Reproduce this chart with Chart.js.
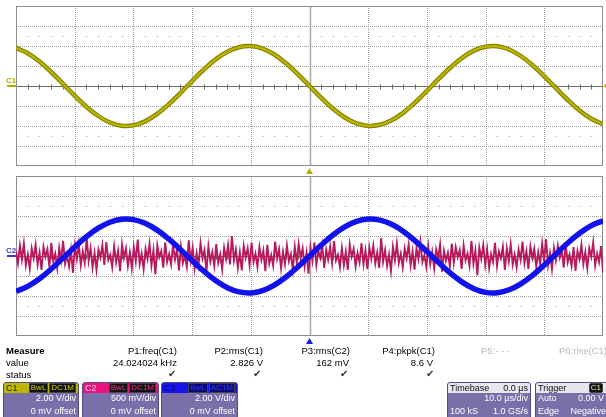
<!DOCTYPE html>
<html>
<head>
<meta charset="utf-8">
<script src="https://cdn.jsdelivr.net/npm/chart.js@4.4.1/dist/chart.umd.min.js"></script>
<style>
  html, body { margin: 0; padding: 0; background: #fff; }
  body { width: 606px; height: 417px; overflow: hidden; position: relative; font-family: "Liberation Sans", Arial, sans-serif; }
  canvas { position: absolute; left: 0; }
  #topScope { top: 0; }
  #botScope { top: 172px; }
  .t { position: absolute; font-size: 9.5px; line-height: 11px; color: #000; white-space: nowrap; }
  .b { font-weight: bold; }
  .dim { color: #b8b8b8; }
  .ok { position: absolute; font-family: "DejaVu Sans", sans-serif; font-size: 10px; line-height: 10px; color: #333; top: 369px; }
  .ch { position: absolute; top: 382px; height: 40px; background: #7a6fa9; border: 1px solid #564b80; border-radius: 3px;
        box-sizing: border-box; overflow: hidden; color: #fff; font-size: 9px; }
  .hd { position: relative; height: 10px; line-height: 10px; }
  .nm { position: absolute; left: 2px; top: 0; }
  .tags { position: absolute; right: 2px; top: 0; display: flex; gap: 1px; }
  .tg { background: #111; font-size: 8px; line-height: 8px; padding: 0 1px; border: 1px solid #444; border-radius: 1px; }
  .r { position: absolute; line-height: 11px; white-space: nowrap; }
</style>
</head>
<body>
<canvas id="topScope" width="606" height="176"></canvas>
<canvas id="botScope" width="606" height="172"></canvas>

<!-- measure table -->
<div class="t b" style="left:6px;top:345px">Measure</div>
<div class="t" style="left:6px;top:357px">value</div>
<div class="t" style="left:6px;top:369px">status</div>

<div class="t" style="right:429px;top:345px">P1:freq(C1)</div>
<div class="t" style="right:343px;top:345px">P2:rms(C1)</div>
<div class="t" style="right:256px;top:345px">P3:rms(C2)</div>
<div class="t" style="right:171px;top:345px">P4:pkpk(C1)</div>
<div class="t dim" style="right:96px;top:345px">P5:- - -</div>
<div class="t dim" style="right:-1px;top:345px">P6:rise(C1)</div>

<div class="t" style="right:429px;top:357px">24.024024 kHz</div>
<div class="t" style="right:343px;top:357px">2.826 V</div>
<div class="t" style="right:257px;top:357px">162 mV</div>
<div class="t" style="right:173px;top:357px">8.6 V</div>

<div class="ok" style="left:168px">✔</div>
<div class="ok" style="left:253px">✔</div>
<div class="ok" style="left:340px">✔</div>
<div class="ok" style="left:426px">✔</div>

<!-- channel boxes -->
<div class="ch" style="left:3px;width:76px">
  <div class="hd" style="background:#bcb700"><span class="nm" style="color:#1a1a00">C1</span>
    <span class="tags"><span class="tg" style="color:#d6d200">BwL</span><span class="tg" style="color:#d6d200">DC1M</span></span></div>
  <div class="r" style="right:2px;top:10px">2.00 V/div</div>
  <div class="r" style="right:2px;top:23px">0 mV offset</div>
</div>
<div class="ch" style="left:82px;width:77px">
  <div class="hd" style="background:#e8137f"><span class="nm" style="color:#ffd0e8">C2</span>
    <span class="tags"><span class="tg" style="color:#f0338f">BwL</span><span class="tg" style="color:#f0338f">DC1M</span></span></div>
  <div class="r" style="right:2px;top:10px">500 mV/div</div>
  <div class="r" style="right:2px;top:23px">0 mV offset</div>
</div>
<div class="ch" style="left:161px;width:77px">
  <div class="hd" style="background:#1616ec"><span class="nm" style="color:#08085a">C3</span>
    <span class="tags"><span class="tg" style="background:#0a0a70;color:#3a3aff">BwL</span><span class="tg" style="background:#0a0a70;color:#3a3aff">AC1M</span></span></div>
  <div class="r" style="right:2px;top:10px">2.00 V/div</div>
  <div class="r" style="right:2px;top:23px">0 mV offset</div>
</div>

<div class="ch" style="left:447px;width:84px">
  <div class="hd" style="background:#e6e6ee;color:#111"><span class="nm">Timebase</span><span class="r" style="right:2px;top:0;line-height:10px">0.0 µs</span></div>
  <div class="r" style="right:2px;top:10px">10.0 µs/div</div>
  <div class="r" style="left:2px;top:23px">100 kS</div>
  <div class="r" style="right:2px;top:23px">1.0 GS/s</div>
</div>
<div class="ch" style="left:535px;width:74px">
  <div class="hd" style="background:#e6e6ee;color:#111"><span class="nm">Trigger</span>
    <span class="tags" style="right:5px"><span class="tg" style="color:#e8e8a0;border-radius:2px">C1</span></span></div>
  <div class="r" style="left:2px;top:10px">Auto</div>
  <div class="r" style="right:4px;top:10px">0.00 V</div>
  <div class="r" style="left:2px;top:23px">Edge</div>
  <div class="r" style="right:2px;top:23px">Negative</div>
</div>

<script>
// sample times (µs, 10 µs/div), read every 2 µs
const timeUs = [-50,-48,-46,-44,-42,-40,-38,-36,-34,-32,-30,-28,-26,-24,-22,-20,-18,-16,-14,-12,-10,-8,-6,-4,-2,
                0,2,4,6,8,10,12,14,16,18,20,22,24,26,28,30,32,34,36,38,40,42,44,46,48,50];
// C1 (V, 2 V/div)
const c1Volts = [3.81,3.28,2.45,1.40,0.22,-0.97,-2.08,-3.00,-3.65,-3.97,-3.93,-3.54,-2.82,-1.85,-0.71,0.49,1.65,2.66,3.43,3.88,3.99,3.74,3.15,2.27,1.19,
                 0,-1.19,-2.27,-3.15,-3.74,-3.99,-3.88,-3.43,-2.66,-1.65,-0.49,0.71,1.85,2.82,3.54,3.93,3.97,3.65,3.00,2.08,0.97,-0.22,-1.40,-2.45,-3.28,-3.81];
// C3 (V, 2 V/div, AC)
const c3Volts = [-3.53,-3.03,-2.27,-1.30,-0.21,0.90,1.93,2.78,3.38,3.67,3.64,3.27,2.61,1.71,0.66,-0.45,-1.52,-2.46,-3.17,-3.59,-3.69,-3.46,-2.91,-2.10,-1.10,
                 0,1.10,2.10,2.91,3.46,3.69,3.59,3.17,2.46,1.52,0.45,-0.66,-1.71,-2.61,-3.27,-3.64,-3.67,-3.38,-2.78,-1.93,-0.90,0.21,1.30,2.27,3.03,3.53];
// C2 noise (mV, 500 mV/div), evenly spaced across the 100 µs screen
const c2NoiseMv = [
  120,-180,260,-90,310,-240,40,-320,190,-60,280,-210,90,-350,230,-20,170,-270,330,-140,
  60,-300,210,-110,380,-190,20,-260,150,-420,250,-80,300,-230,110,-170,470,-120,200,-290,
  80,-340,160,-40,270,-220,350,-100,30,-280,240,-160,130,-380,290,-50,190,-250,90,-310,
  220,-130,410,-200,60,-330,180,-70,300,-240,140,-460,260,-30,120,-290,340,-150,50,-210,
  280,-90,170,-360,230,-180,10,-270,390,-120,210,-310,70,-220,320,-60,150,-400,240,-140,
  100,-250,300,-170,40,-330,200,-80,270,-210,500,-110,160,-290,90,-360,250,-40,190,-230,
  330,-150,60,-270,220,-100,140,-380,280,-190,20,-240,360,-70,170,-310,110,-200,260,-130,
  50,-340,230,-160,300,-60,190,-260,80,-440,210,-120,340,-220,130,-50,270,-300,160,-90,
  240,-180,370,-110,30,-280,200,-230,110,-350,290,-20,180,-260,70,-160,320,-210,140,-330,
  210,-70,260,-190,90,-300,450,-140,150,-250,40,-370,230,-100,310,-170,60,-280,190,-60,
  280,-230,120,-340,200,-80,350,-150,20,-270,240,-200,100,-310,170,-40,290,-390,130,-120,
  80,-260,310,-170,220,-30,150,-320,260,-110,60,-240,380,-190,140,-480,210,-70,270,-220,
  170,-300,50,-150,330,-250,110,-60,230,-350,190,-130,290,-210,40,-280,160,-90,360,-180,
  120,-320,240,-50,180,-270,90,-200,310,-140,420,-230,70,-330,200,-110,260,-40,150,-290,
  300,-160,30,-250,220,-370,130,-80,280,-200,100,-300,190,-20,340,-240,60,-150,250,-410
];
// graticule: major divisions
const divTimes = [-50,-40,-30,-20,-10,0,10,20,30,40,50];
const divCount = 8;

const pts = (ys) => timeUs.map((t, i) => ({ x: t, y: ys[i] }));

/* ── graticule + markers ───────────────────── */
const graticule = {
  id: 'graticule',
  beforeDatasetsDraw(chart, args, o) {
    const { ctx, chartArea: a } = chart;
    const xs = chart.scales.x, ys = chart.scales[o.yAxis];
    const step = (ys.max - ys.min) / divCount;
    ctx.save();
    ctx.lineWidth = 1;
    // dotted grid
    ctx.strokeStyle = '#9c9c9c';
    ctx.setLineDash([1, 1]);
    divTimes.forEach(v => {
      if (v === 0 || v === xs.min || v === xs.max) return;
      const px = Math.round(xs.getPixelForValue(v)) + 0.5;
      ctx.beginPath(); ctx.moveTo(px, a.top); ctx.lineTo(px, a.bottom); ctx.stroke();
    });
    for (let j = 1; j < divCount; j++) {
      const v = ys.min + j * step;
      if (Math.abs(v) < 1e-9) continue;
      const py = Math.round(ys.getPixelForValue(v)) + 0.5;
      ctx.beginPath(); ctx.moveTo(a.left, py); ctx.lineTo(a.right, py); ctx.stroke();
    }
    ctx.setLineDash([]);
    // centre cross
    const cx = Math.round(xs.getPixelForValue(0)) + 0.5;
    const cy = Math.round(ys.getPixelForValue(0)) + 0.5;
    ctx.strokeStyle = '#a8a8a8';
    ctx.lineWidth = 1.5;
    ctx.beginPath(); ctx.moveTo(cx, a.top); ctx.lineTo(cx, a.bottom); ctx.stroke();
    ctx.lineWidth = 1;
    ctx.strokeStyle = '#6a6a6a';
    ctx.beginPath(); ctx.moveTo(a.left, cy); ctx.lineTo(a.right, cy); ctx.stroke();
    // minor ticks on the centre line and dot rows at ±2.5 div
    const rowUp = Math.round(ys.getPixelForValue(2.5 * step)) + 0.5;
    const rowDn = Math.round(ys.getPixelForValue(-2.5 * step)) + 0.5;
    timeUs.forEach(t => {
      if (t % 10 === 0) return;
      const px = Math.round(xs.getPixelForValue(t)) + 0.5;
      ctx.strokeStyle = '#6a6a6a';
      ctx.beginPath(); ctx.moveTo(px, cy - 2); ctx.lineTo(px, cy + 3); ctx.stroke();
      ctx.strokeStyle = '#c4c4c4';
      [rowUp, rowDn].forEach(r => { ctx.beginPath(); ctx.moveTo(px - 1, r); ctx.lineTo(px + 1, r); ctx.stroke(); });
    });
    // frame
    ctx.strokeStyle = '#8c8c8c';
    ctx.strokeRect(a.left + 0.5, a.top + 0.5, a.right - a.left - 1, a.bottom - a.top - 1);
    ctx.restore();
  },
  afterDraw(chart, args, o) {
    const { ctx, chartArea: a } = chart;
    const xs = chart.scales.x, ys = chart.scales[o.yAxis];
    const cx = xs.getPixelForValue(0), cy = ys.getPixelForValue(0);
    ctx.save();
    // channel label on the left
    ctx.fillStyle = o.labelColor;
    ctx.font = 'bold 8px "Liberation Sans", Arial, sans-serif';
    ctx.textBaseline = 'alphabetic';
    ctx.fillText(o.label, 6, cy - 3);
    ctx.strokeStyle = o.labelColor;
    ctx.lineWidth = 2;
    ctx.beginPath(); ctx.moveTo(7, cy); ctx.lineTo(a.left, cy); ctx.stroke();
    // trigger-time triangle below the grid
    ctx.fillStyle = o.markColor;
    ctx.beginPath();
    ctx.moveTo(cx, a.bottom + 2); ctx.lineTo(cx - 3.5, a.bottom + 8); ctx.lineTo(cx + 3.5, a.bottom + 8);
    ctx.closePath(); ctx.fill();
    if (o.levelMark) {
      ctx.beginPath();
      ctx.moveTo(a.right + 0.5, cy); ctx.lineTo(a.right + 4, cy - 3); ctx.lineTo(a.right + 4, cy + 3);
      ctx.closePath(); ctx.fill();
    }
    ctx.restore();
  }
};

const common = {
  type: 'line',
  plugins: [graticule]
};

function baseOptions(pad, yScales, marks) {
  return {
    responsive: false,
    animation: false,
    devicePixelRatio: 1,
    layout: { padding: pad },
    elements: { point: { radius: 0 } },
    plugins: { legend: { display: false }, tooltip: { enabled: false }, graticule: marks },
    scales: Object.assign({ x: { type: 'linear', min: -50, max: 50, display: false } }, yScales)
  };
}

/* ── top panel: C1 ───────────────────────── */
new Chart(document.getElementById('topScope'), {
  ...common,
  data: {
    datasets: [
      { data: pts(c1Volts), yAxisID: 'y', borderColor: '#bab600', borderWidth: 2.2, tension: 0.4, clip: 0 },
      { data: pts(c1Volts), yAxisID: 'y', borderColor: '#868200', borderWidth: 4.5, tension: 0.4, clip: 0 }
    ]
  },
  options: baseOptions({ left: 16, right: 3, top: 6, bottom: 10 },
    { y: { type: 'linear', min: -8, max: 8, display: false } },
    { yAxis: 'y', label: 'C1', labelColor: '#b4b000', markColor: '#b4b000', levelMark: true })
});

/* ── bottom panel: C2 + C3 ───────────────── */
new Chart(document.getElementById('botScope'), {
  ...common,
  data: {
    datasets: [
      { data: pts(c3Volts), xAxisID: 'x', yAxisID: 'yC3', borderColor: '#1212ee', borderWidth: 5.5, tension: 0.4, clip: 0 },
      { data: c2NoiseMv, xAxisID: 'xn', yAxisID: 'yC2', borderColor: '#b8185c', borderWidth: 1.9, tension: 0, clip: 0 }
    ]
  },
  options: baseOptions({ left: 16, right: 3, top: 4, bottom: 8 },
    {
      xn: { type: 'category', labels: c2NoiseMv.map((_, i) => i), offset: false, display: false },
      yC3: { type: 'linear', min: -8, max: 8, display: false },
      yC2: { type: 'linear', min: -2000, max: 2000, display: false }
    },
    { yAxis: 'yC3', label: 'C2', labelColor: '#3a3acc', markColor: '#1a1aee', levelMark: false })
});
</script>
</body>
</html>
